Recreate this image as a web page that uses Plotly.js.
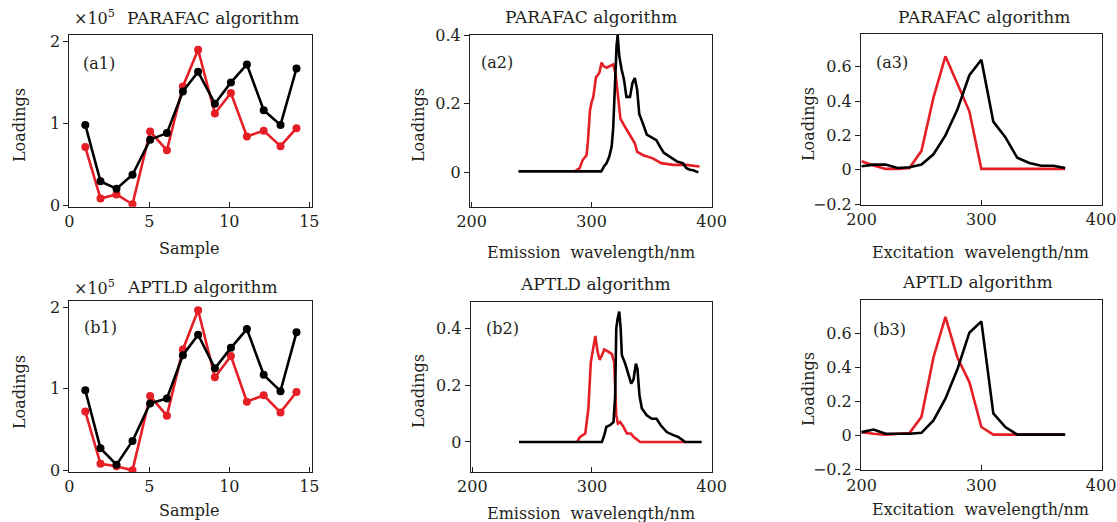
<!DOCTYPE html>
<html><head><meta charset="utf-8">
<script src="https://cdn.plot.ly/plotly-3.0.1.min.js"></script>
<style>html,body{margin:0;padding:0;background:#fff}#chart{width:1117px;height:522px}</style>
</head><body><div id="chart"></div><script>
// ---- data ----
const sampleX = [1, 1.95, 2.95, 3.95, 5.05, 6.1, 7.1, 8.05, 9.1, 10.1, 11.1, 12.15, 13.2, 14.2];
const a1Black = [0.98, 0.29, 0.20, 0.37, 0.80, 0.88, 1.39, 1.63, 1.24, 1.50, 1.72, 1.16, 0.98, 1.67];
const a1Red   = [0.71, 0.08, 0.13, 0.01, 0.90, 0.67, 1.45, 1.90, 1.12, 1.37, 0.84, 0.91, 0.72, 0.94];
const b1Black = [0.98, 0.27, 0.07, 0.36, 0.82, 0.88, 1.41, 1.66, 1.25, 1.50, 1.73, 1.17, 0.97, 1.69];
const b1Red   = [0.72, 0.08, 0.05, 0.00, 0.91, 0.67, 1.48, 1.96, 1.14, 1.40, 0.84, 0.92, 0.71, 0.96];

const a2BlackX = [239, 308, 310.3, 312.5, 314.7, 316.7, 318, 319.4, 320.8, 321.7, 323, 325, 327, 329, 332, 334, 336, 338, 339.7, 343, 346, 351, 354, 357, 360, 365, 371, 376, 379, 382, 384.7, 389];
const a2BlackY = [0.003, 0.003, 0.017, 0.027, 0.046, 0.075, 0.13, 0.27, 0.37, 0.40, 0.34, 0.30, 0.27, 0.22, 0.22, 0.26, 0.275, 0.24, 0.17, 0.14, 0.11, 0.10, 0.094, 0.075, 0.058, 0.046, 0.032, 0.027, 0.0125, 0.008, 0.006, 0.0];
const a2RedX = [286, 290, 292.5, 295.8, 297, 298.6, 300, 301.4, 303.6, 306.4, 308.3, 310, 312.5, 315.8, 318, 320, 322, 324, 327.8, 332, 336, 338, 343, 351, 358, 368, 379, 390];
const a2RedY = [0.003, 0.0125, 0.036, 0.05, 0.094, 0.18, 0.205, 0.22, 0.277, 0.29, 0.32, 0.31, 0.305, 0.31, 0.315, 0.287, 0.21, 0.157, 0.133, 0.109, 0.085, 0.06, 0.05, 0.041, 0.027, 0.022, 0.022, 0.017];

const b2BlackX = [239, 308.3, 310.3, 312, 315, 318, 319.4, 320.3, 321.4, 322.8, 324, 325, 327.8, 330.5, 332.8, 334.7, 336.7, 338, 339.7, 341.7, 345.8, 350, 354, 357.5, 362.5, 368, 372, 376, 377.8, 391.7];
const b2BlackY = [0, 0, 0.024, 0.053, 0.059, 0.07, 0.165, 0.40, 0.435, 0.46, 0.40, 0.306, 0.276, 0.235, 0.206, 0.22, 0.276, 0.259, 0.165, 0.118, 0.094, 0.082, 0.082, 0.059, 0.035, 0.024, 0.018, 0.006, 0, 0];
const b2RedX = [287.5, 290, 294.4, 297, 299, 300.8, 302.8, 304.7, 306.4, 308.3, 310.3, 313.9, 316.7, 318.6, 320.3, 321.7, 323.6, 326.4, 329.2, 332.5, 334.7, 340.3, 378];
const b2RedY = [0, 0.018, 0.03, 0.118, 0.28, 0.33, 0.374, 0.318, 0.29, 0.306, 0.327, 0.318, 0.31, 0.28, 0.094, 0.065, 0.07, 0.053, 0.03, 0.03, 0.018, 0, 0];

const exX = [200, 210, 220, 230, 240, 250, 260, 270, 280, 290, 300, 310, 320, 330, 340, 350, 360, 370];
const a3Red   = [0.05, 0.025, 0.005, 0.005, 0.01, 0.11, 0.42, 0.66, 0.50, 0.34, 0.005, 0.005, 0.005, 0.005, 0.005, 0.005, 0.005, 0.005];
const a3Black = [0.02, 0.03, 0.03, 0.01, 0.015, 0.03, 0.09, 0.20, 0.35, 0.55, 0.64, 0.28, 0.19, 0.07, 0.04, 0.023, 0.023, 0.01];
const b3Red   = [0.02, 0.01, 0.005, 0.01, 0.015, 0.11, 0.46, 0.70, 0.46, 0.315, 0.05, 0.005, 0.005, 0.005, 0.005, 0.005, 0.005, 0.005];
const b3Black = [0.02, 0.035, 0.01, 0.01, 0.01, 0.016, 0.089, 0.217, 0.39, 0.606, 0.673, 0.13, 0.05, 0.005, 0.005, 0.005, 0.005, 0.005];

const sampleTicks = [0, 5, 10, 15];
const loadTicks1 = [0, 1, 2];
const waveTicks = [200, 300, 400];
const emTicks = [0, 0.2, 0.4];
const emTickText = ['0', '0.2', '0.4'];
const exTicks = [-0.2, 0, 0.2, 0.4, 0.6];
const exTickText = ['\u22120.2', '0', '0.2', '0.4', '0.6'];

// ---- layout helpers ----
const W = 1117, H = 522;
const FONT = 'DejaVu Serif';
const TXT = '#231f20';
const RED = '#e61e25';
const px = x => x / W;
const py = y => 1 - y / H;

function ax(domPx, range, tickvals, ticktext, ticks, isY) {
  const dom = isY ? [py(domPx[1]), py(domPx[0])] : [px(domPx[0]), px(domPx[1])];
  return {
    domain: dom, range: range, tickmode: 'array', tickvals: tickvals,
    ticktext: ticktext || tickvals.map(String), ticks: ticks, ticklen: 5,
    tickcolor: TXT, tickwidth: 1, showline: true, mirror: true, linecolor: TXT,
    linewidth: 1, showgrid: false, zeroline: false, fixedrange: true,
    tickfont: {family: FONT, size: 16, color: TXT}
  };
}

const layout = {
  width: W, height: H, margin: {l: 0, r: 0, t: 0, b: 0},
  paper_bgcolor: '#fff', plot_bgcolor: '#fff', showlegend: false,
  font: {family: FONT, color: TXT},
  xaxis:  Object.assign(ax([69.3, 311.7], [0, 15.15], sampleTicks, null, 'inside', false), {anchor: 'y'}),
  yaxis:  Object.assign(ax([35, 206.7], [-0.02, 2.08], loadTicks1, null, 'outside', true), {anchor: 'x'}),
  xaxis2: Object.assign(ax([470, 712.3], [198.6, 400.6], waveTicks, null, 'inside', false), {anchor: 'y2'}),
  yaxis2: Object.assign(ax([35, 206.7], [-0.1, 0.4005], emTicks, emTickText, 'outside', true), {anchor: 'x2'}),
  xaxis3: Object.assign(ax([861, 1101.7], [199.5, 400.5], waveTicks, null, 'inside', false), {anchor: 'y3'}),
  yaxis3: Object.assign(ax([34, 205], [-0.205, 0.79], exTicks, exTickText, 'outside', true), {anchor: 'x3'}),
  xaxis4: Object.assign(ax([69.3, 311.7], [0, 15.15], sampleTicks, null, 'inside', false), {anchor: 'y4'}),
  yaxis4: Object.assign(ax([301.3, 472], [-0.02, 2.07], loadTicks1, null, 'outside', true), {anchor: 'x4'}),
  xaxis5: Object.assign(ax([470.7, 712.3], [198.6, 400.6], waveTicks, null, 'inside', false), {anchor: 'y5'}),
  yaxis5: Object.assign(ax([302, 472], [-0.106, 0.494], emTicks, emTickText, 'outside', true), {anchor: 'x5'}),
  xaxis6: Object.assign(ax([861, 1101.7], [199.5, 400.5], waveTicks, null, 'inside', false), {anchor: 'y6'}),
  yaxis6: Object.assign(ax([300.3, 470.3], [-0.205, 0.797], exTicks, exTickText, 'outside', true), {anchor: 'x6'}),
  annotations: []
};

function ann(text, x, y, opts) {
  layout.annotations.push(Object.assign({
    text: text, xref: 'paper', yref: 'paper', x: px(x), y: py(y),
    xanchor: 'center', yanchor: 'middle', showarrow: false,
    font: {family: FONT, size: 16, color: TXT}
  }, opts || {}));
}

// titles
ann('\u00d710<sup>5</sup>', 72, 18, {xanchor: 'left'});
ann('PARAFAC algorithm', 125, 18, {xanchor: 'left', font: {family: FONT, size: 17, color: TXT}});
ann('PARAFAC algorithm', 591, 17, {font: {family: FONT, size: 17, color: TXT}});
ann('PARAFAC algorithm', 984, 17, {font: {family: FONT, size: 17, color: TXT}});
ann('\u00d710<sup>5</sup>', 72, 287, {xanchor: 'left'});
ann('APTLD algorithm', 125, 287, {xanchor: 'left', font: {family: FONT, size: 17, color: TXT}});
ann('APTLD algorithm', 595, 284, {font: {family: FONT, size: 17, color: TXT}});
ann('APTLD algorithm', 977, 282, {font: {family: FONT, size: 17, color: TXT}});
// panel labels
ann('(a1)', 99, 63); ann('(a2)', 497, 62); ann('(a3)', 892, 62);
ann('(b1)', 100, 327); ann('(b2)', 502, 328); ann('(b3)', 889, 329);
// axis titles
const ylab = {textangle: -90};
ann('Loadings', 19, 125, ylab); ann('Loadings', 418, 125, ylab); ann('Loadings', 808, 124, ylab);
ann('Loadings', 19, 392, ylab); ann('Loadings', 418, 391, ylab); ann('Loadings', 808, 389, ylab);
ann('Sample', 189, 248); ann('Sample', 189, 510);
ann('Emission\u00a0 wavelength/nm', 591, 252); ann('Emission\u00a0 wavelength/nm', 591, 513);
ann('Excitation\u00a0 wavelength/nm', 980, 252); ann('Excitation\u00a0 wavelength/nm', 980, 509);

function line(x, y, color, xa, ya, markers) {
  return {x: x, y: y, xaxis: xa, yaxis: ya, type: 'scatter',
    mode: markers ? 'lines+markers' : 'lines',
    line: {color: color, width: 2.6}, marker: {color: color, size: 8},
    cliponaxis: true, hoverinfo: 'skip'};
}

const data = [
  line(sampleX, a1Red, RED, 'x', 'y', true),
  line(sampleX, a1Black, '#000', 'x', 'y', true),
  line(a2RedX, a2RedY, RED, 'x2', 'y2'),
  line(a2BlackX, a2BlackY, '#000', 'x2', 'y2'),
  line(exX, a3Red, RED, 'x3', 'y3'),
  line(exX, a3Black, '#000', 'x3', 'y3'),
  line(sampleX, b1Red, RED, 'x4', 'y4', true),
  line(sampleX, b1Black, '#000', 'x4', 'y4', true),
  line(b2RedX, b2RedY, RED, 'x5', 'y5'),
  line(b2BlackX, b2BlackY, '#000', 'x5', 'y5'),
  line(exX, b3Red, RED, 'x6', 'y6'),
  line(exX, b3Black, '#000', 'x6', 'y6')
];

Plotly.newPlot('chart', data, layout, {staticPlot: true, displayModeBar: false});
</script></body></html>
